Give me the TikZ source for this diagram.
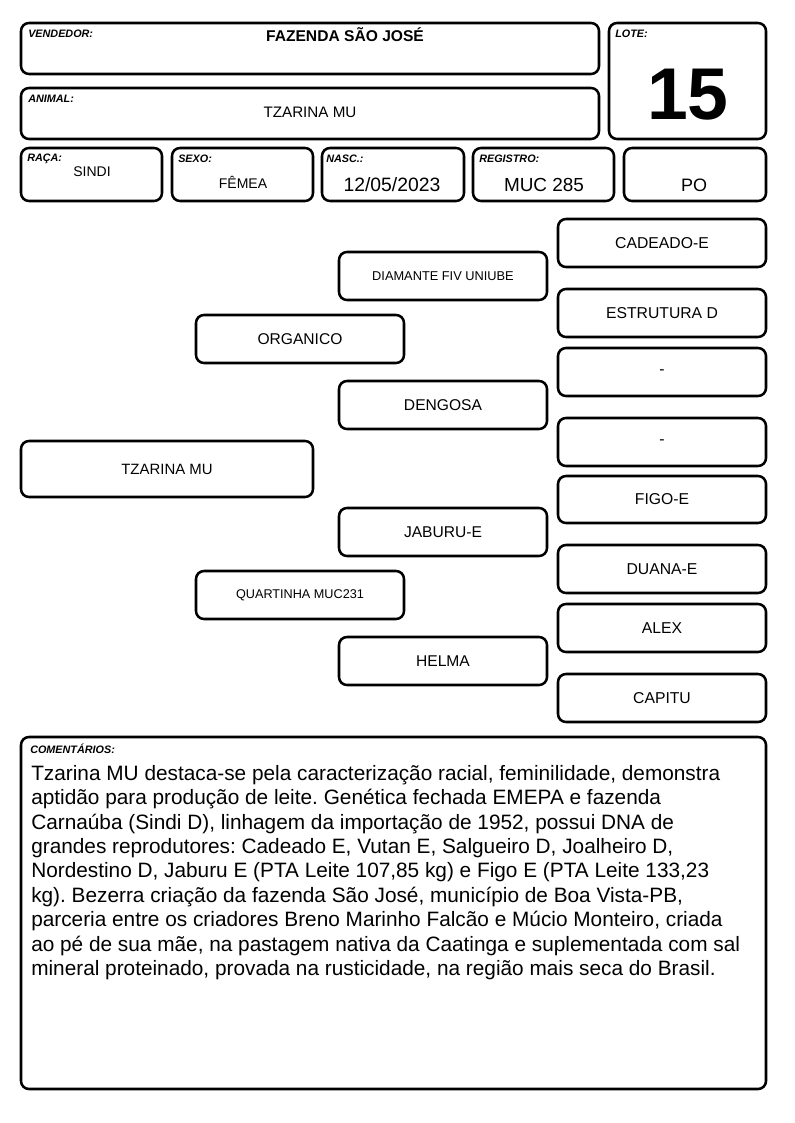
\documentclass[tikz,border=0pt]{standalone}
\usepackage{fontspec}
\setmainfont{Liberation Sans}
\frenchspacing
\newcommand\fs[1]{\fontsize{#1}{#1}\selectfont}
\newcommand\bx[6]{\node[box,minimum width={(#4-#2)*0.75pt},minimum height={(#5-#3)*0.75pt}] (#1) at ({(#2+#4)/2},{(#3+#5)/2}) {#6};}
\begin{document}
\begin{tikzpicture}[x=0.75pt,y=-0.75pt,
  box/.style={draw,line width=1.9pt,rounded corners=6pt,inner sep=0pt,align=center},
  lbl/.style={anchor=north west,inner sep=0pt,font=\fs{8.1}\bfseries\itshape},
  val/.style={inner sep=0pt,anchor=base}]
\useasboundingbox (0,0) rectangle (794,1123);
% header
\bx{vend}{21}{23}{599}{74}{}
\bx{anim}{21}{88}{599}{139}{}
\bx{lote}{609}{23}{766}{139}{}
\bx{raca}{21}{148}{162}{201}{}
\bx{sexo}{172}{148}{313}{201}{}
\bx{nasc}{322}{148}{464}{201}{}
\bx{reg}{473}{148}{614}{201}{}
\bx{po}{624}{148}{766}{201}{}
\node[lbl] (vendl) at (28,30) {VENDEDOR:};
\node[val,font=\fs{11.7}\bfseries] (vendv) at (345,42) {FAZENDA SÃO JOSÉ};
\node[lbl] (animl) at (28,95) {ANIMAL:};
\node[val,font=\fs{11.4}] (animv) at (310,118) {TZARINA MU};
\node[lbl] (lotel) at (615,30) {LOTE:};
\node[val,font=\fs{55}\bfseries] (lotev) at (688,120) {15};
\node[lbl] (racal) at (27,154) {RAÇA:};
\node[val,font=\fs{10.5}] (racav) at (92,177) {SINDI};
\node[lbl] (sexol) at (178,155) {SEXO:};
\node[val,font=\fs{10.5}] (sexov) at (243,189) {FÊMEA};
\node[lbl] (nascl) at (326,155) {NASC.:};
\node[val,font=\fs{14.5}] (nascv) at (392,192) {12/05/2023};
\node[lbl] (regl) at (479,155) {REGISTRO:};
\node[val,font=\fs{14.2}] (regv) at (544,192) {MUC 285};
\node[val,font=\fs{13.5}] (pov) at (694,192) {PO};
% pedigree
\bx{tz}{21}{441}{313}{497}{\fs{11.2}TZARINA MU}
\bx{org}{196}{315}{404}{363}{\fs{11.7}ORGANICO}
\bx{qua}{196}{571}{404}{619}{\fs{9.5}QUARTINHA MUC231}
\bx{dia}{339}{252}{547}{300}{\fs{9.6}DIAMANTE FIV UNIUBE}
\bx{den}{339}{381}{547}{429}{\fs{11.7}DENGOSA}
\bx{jab}{339}{508}{547}{556}{\fs{11.7}JABURU-E}
\bx{hel}{339}{637}{547}{685}{\fs{11.7}HELMA}
\bx{cad}{558}{219}{766}{267}{\fs{11.8}CADEADO-E}
\bx{est}{558}{289}{766}{337}{\fs{11.8}ESTRUTURA D}
\bx{d1}{558}{348}{766}{396}{\fs{11.8}-}
\bx{d2}{558}{418}{766}{466}{\fs{11.8}-}
\bx{fig}{558}{476}{766}{523}{\fs{11.8}FIGO-E}
\bx{dua}{558}{545}{766}{593}{\fs{11.8}DUANA-E}
\bx{ale}{558}{604}{766}{652}{\fs{11.8}ALEX}
\bx{cap}{558}{674}{766}{722}{\fs{11.8}CAPITU}
% comments
\bx{com}{21}{737}{766}{1089}{}
\node[lbl] (coml) at (30,744) {COMENTÁRIOS:};
\node[anchor=north west,inner sep=0pt,align=left,font=\fontsize{15.6}{18.3}\selectfont] (comv) at (31,765) {Tzarina MU destaca-se pela caracterização racial, feminilidade, demonstra\\
aptidão para produção de leite. Genética fechada EMEPA e fazenda\\
Carnaúba (Sindi D), linhagem da importação de 1952, possui DNA de\\
grandes reprodutores: Cadeado E, Vutan E, Salgueiro D, Joalheiro D,\\
Nordestino D, Jaburu E (PTA Leite 107,85 kg) e Figo E (PTA Leite 133,23\\
kg). Bezerra criação da fazenda São José, município de Boa Vista-PB,\\
parceria entre os criadores Breno Marinho Falcão e Múcio Monteiro, criada\\
ao pé de sua mãe, na pastagem nativa da Caatinga e suplementada com sal\\
mineral proteinado, provada na rusticidade, na região mais seca do Brasil.};
\end{tikzpicture}
\end{document}
